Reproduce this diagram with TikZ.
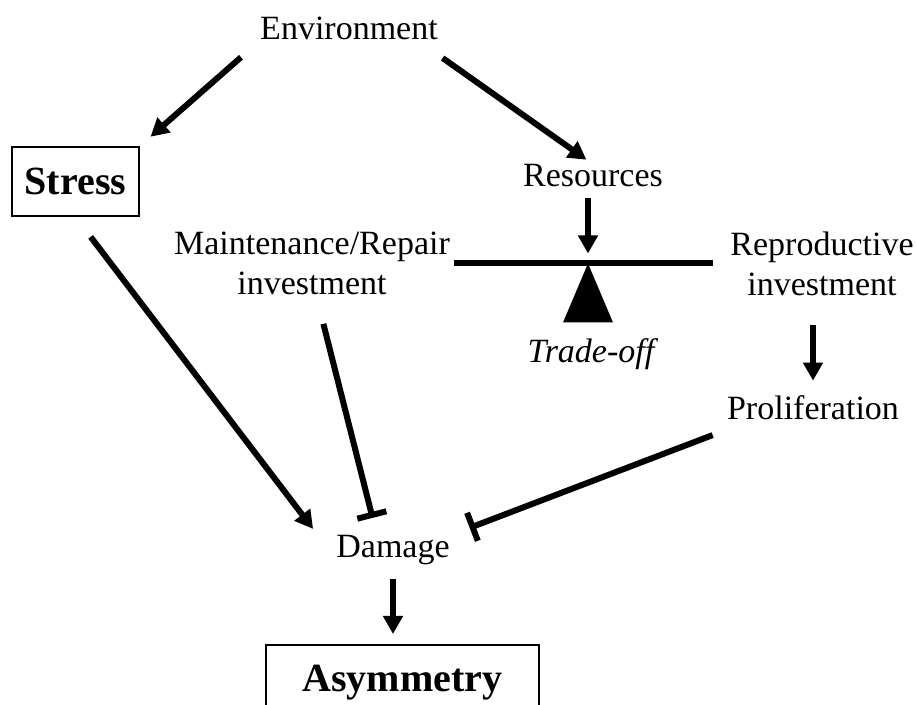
\documentclass[tikz,border=0pt]{standalone}
\usepackage{fontspec}
\setmainfont{Liberation Serif}
\usetikzlibrary{arrows.meta}
\begin{document}
\begin{tikzpicture}[x=0.5pt, y=-0.5pt, txt/.style={inner sep=0pt, font=\fontsize{17}{20}\selectfont}, two/.style={txt, align=center}, boxtxt/.style={draw, line width=1pt, inner sep=0pt, font=\fontsize{20}{24}\selectfont\bfseries}, arr/.style={line width=3pt, -{Triangle[length=9pt, width=9.5pt]}}, tee/.style={line width=3pt, -{Bar[width=15pt]}}]
	\clip (0,0) rectangle (917,705);
	\node[txt, anchor=base] (env) at (349,40) {Environment};
	\node[boxtxt, minimum width=63.5pt, minimum height=34.5pt] (stress) at (75.5,181.5) {Stress};
	\node[txt, anchor=base] (res) at (593,187) {Resources};
	\node[two] (maint) at (312,263) {Maintenance/Repair\\investment};
	\node[two] (repro) at (822,264) {Reproductive\\investment};
	\node[txt, anchor=base] (tradeoff) at (591,363) {\itshape Trade-off};
	\node[txt, anchor=base] (prolif) at (813,420) {Proliferation};
	\node[txt, anchor=base] (damage) at (393,558) {Damage};
	\node[boxtxt, minimum width=136.5pt, minimum height=37.5pt] (asym) at (402.5,682.5) {Asymmetry};
	\coordinate (pivot) at (588,263.5);
	\fill (pivot) -- ++(-25,59) -- ++(50,0) -- cycle;
	\draw[line width=3pt, shorten <=2pt, shorten >=8.5pt] (maint.east |- pivot) -- (repro.west |- pivot);
	\draw[arr, shorten <=12.5pt, shorten >=7pt] (env.south west) -- (stress.north east);
	\draw[arr, shorten <=15pt, shorten >=4pt] ([xshift=-10pt]env.south east) -- (res.north);
	\draw[arr, shorten <=5pt, shorten >=5pt] (pivot |- res.south) -- (pivot);
	\draw[arr, shorten <=14.5pt, shorten >=7.5pt] (prolif.north |- repro.south) -- (prolif.north);
	\draw[arr, shorten <=12.5pt, shorten >=4pt] (stress.south) -- ([xshift=-9pt]damage.north west);
	\draw[tee, shorten <=15pt, shorten >=9pt] ([xshift=2pt]maint.south) -- ([xshift=-8pt]damage.north);
	\draw[tee, shorten <=7.5pt, shorten >=10.5pt] ([yshift=-4.5pt]prolif.south west) -- (damage.north east);
	\draw[arr, shorten <=6.5pt, shorten >=5pt] (damage.south) -- (damage.south |- asym.north);
\end{tikzpicture}
\end{document}
